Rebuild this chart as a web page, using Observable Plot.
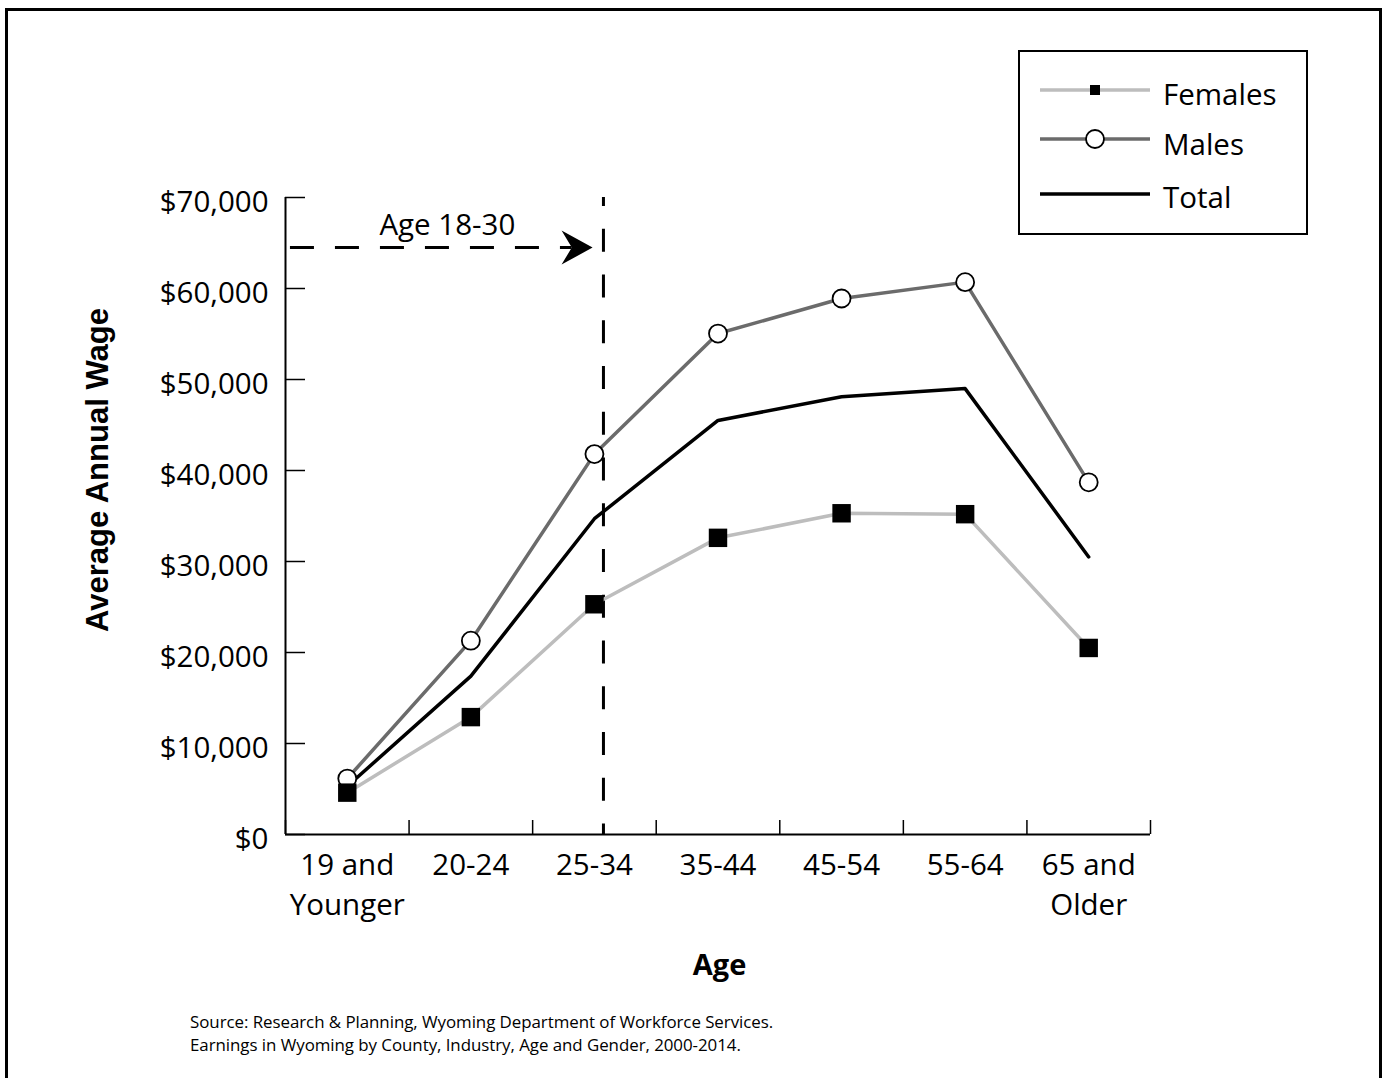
<!DOCTYPE html>
<html>
<head>
<meta charset="utf-8">
<script src="https://cdn.jsdelivr.net/npm/d3@7"></script>
<script src="https://cdn.jsdelivr.net/npm/@observablehq/plot@0.6"></script>
<style>
  body { margin: 0; background: #fff; }
  #page { position: relative; width: 1385px; height: 1078px; overflow: hidden; background: #fff; font-family: "Open Sans", sans-serif; color: #000; }
  #frame { position: absolute; left: 5px; top: 8px; width: 1377px; height: 1200px; border: 3px solid #000; box-sizing: border-box; }
  #chart { position: absolute; left: 0; top: 0; }
  .ylabel { position: absolute; left: 98px; top: 470px; transform: translate(-50%, -50%) rotate(-90deg); white-space: nowrap; font: bold 31px "Liberation Sans", Arial, sans-serif; }
  .xlabel { position: absolute; left: 719.5px; top: 949px; transform: translateX(-50%); font: bold 29px/1 "Open Sans", sans-serif; white-space: nowrap; }
  .source { position: absolute; left: 190px; top: 1010px; font: 16.9px/23px "Open Sans", sans-serif; letter-spacing: -0.05px; white-space: nowrap; }
  .legend { position: absolute; left: 1018px; top: 50px; width: 290px; height: 185px; border: 2px solid #000; box-sizing: border-box; }
  .legtext { position: absolute; font: 29.5px/1 "Open Sans", sans-serif; white-space: nowrap; }
  .legsw { position: absolute; }
</style>
</head>
<body>
<div id="page">
  <div id="frame"></div>
  <div id="chart"></div>
  <div class="ylabel">Average Annual Wage</div>
  <div class="xlabel">Age</div>
  <div class="source">Source: Research &amp; Planning, Wyoming Department of Workforce Services.<br>Earnings in Wyoming by County, Industry, Age and Gender, 2000-2014.</div>
  <div class="legend"></div>
</div>
<script>
// ---- data ----
const ageGroups = ["19 and\nYounger", "20-24", "25-34", "35-44", "45-54", "55-64", "65 and\nOlder"];
const females = [4600, 12900, 25300, 32600, 35300, 35200, 20500];
const males   = [6150, 21300, 41800, 55050, 58900, 60700, 38700];
const total   = [5300, 17400, 34700, 45500, 48100, 49000, 30500];
const yTicks  = [0, 10000, 20000, 30000, 40000, 50000, 60000, 70000];

// annotation ("Age 18-30") values, in age-band units and dollars
const annotationLabel = "Age 18-30";
const ageMarker = 2.573;     // dashed vertical line inside the 25-34 band
const arrowStart = 0.04;
const arrowEnd = 2.32;
const arrowTip = 2.485;
const arrowValue = 64500;
const labelPos = 1.31;
const labelValue = 66900;

const seriesStyle = {
  Females: {stroke: "#bdbdbd"},
  Males: {stroke: "#6b6b6b"},
  Total: {stroke: "#000000"}
};

// ---- build ----
const toRows = (vals, series) => vals.map((v, i) => ({pos: i + 0.5, value: v, series}));
const femaleRows = toRows(females, "Females");
const maleRows = toRows(males, "Males");
const totalRows = toRows(total, "Total");
const boundaries = d3.range(ageGroups.length + 1);
const centers = ageGroups.map((d, i) => i + 0.5);

const arrowShape = {
  draw(context, l, r) {
    context.moveTo(0, -l);
    context.lineTo(r, 0);
    context.lineTo(0, -l * 0.33);
    context.lineTo(-r, 0);
    context.closePath();
  }
};

const chart = Plot.plot({
  width: 1385,
  height: 940,
  marginLeft: 285,
  marginRight: 235,
  marginTop: 197,
  marginBottom: 106,
  style: {fontFamily: '"Open Sans", sans-serif', fontSize: "29.5px", color: "#000", background: "transparent", overflow: "visible"},
  x: {type: "linear", domain: [0, ageGroups.length], axis: null},
  y: {type: "linear", domain: [0, 70000], axis: null},
  marks: [
    Plot.axisY(yTicks, {anchor: "left", tickSize: 20, dx: 20, fill: "none", strokeWidth: 1.5, label: null}),
    Plot.axisY(yTicks, {anchor: "left", tickSize: 0, tickPadding: 17, dy: 5, stroke: "none", tickFormat: d => "$" + d3.format(",")(d), label: null}),
    Plot.axisX(boundaries, {anchor: "bottom", tickSize: 14, dy: -14, fill: "none", strokeWidth: 1.5, label: null}),
    Plot.axisX(centers, {anchor: "bottom", tickSize: 0, tickPadding: 12, stroke: "none", lineHeight: 1.36, tickFormat: d => ageGroups[Math.floor(d)], label: null}),
    Plot.ruleX([0], {strokeWidth: 2}),
    Plot.ruleY([0], {strokeWidth: 2}),
    Plot.ruleX([ageMarker], {y1: 70000, y2: 0, strokeWidth: 3, strokeDasharray: "23,22.75", strokeDashoffset: 14}),
    Plot.ruleY([arrowValue], {x1: arrowStart, x2: arrowEnd, strokeWidth: 3, strokeDasharray: "24,21"}),
    Plot.vector([arrowTip], {x: d => d, y: arrowValue, rotate: 90, length: 31, r: 17, anchor: "end", shape: arrowShape, fill: "#000", stroke: "none"}),
    Plot.text([annotationLabel], {x: labelPos, y: labelValue, text: d => d, textAnchor: "middle"}),
    Plot.line(femaleRows, {x: "pos", y: "value", stroke: seriesStyle.Females.stroke, strokeWidth: 3.5}),
    Plot.line(maleRows, {x: "pos", y: "value", stroke: seriesStyle.Males.stroke, strokeWidth: 3.5}),
    Plot.line(totalRows, {x: "pos", y: "value", stroke: seriesStyle.Total.stroke, strokeWidth: 3.5}),
    Plot.dot(maleRows, {x: "pos", y: "value", r: 9, fill: "#fff", stroke: "#000", strokeWidth: 1.8}),
    Plot.dot(femaleRows, {x: "pos", y: "value", symbol: "square", r: 10.4, fill: "#000", stroke: "none"})
  ]
});
document.getElementById("chart").appendChild(chart);

// ---- legend ----
const page = d3.select("#page");
const legendItems = [
  {name: "Females", lineY: 90, textTop: 79, marker: "square"},
  {name: "Males", lineY: 139, textTop: 129, marker: "circle"},
  {name: "Total", lineY: 194, textTop: 182, marker: null}
];
legendItems.forEach(it => {
  const svg = page.append("svg").attr("class", "legsw")
    .style("left", "1038px").style("top", (it.lineY - 15) + "px")
    .attr("width", 114).attr("height", 30);
  svg.append("line").attr("x1", 2).attr("x2", 112).attr("y1", 15).attr("y2", 15)
    .attr("stroke", seriesStyle[it.name].stroke).attr("stroke-width", 3.5);
  if (it.marker === "square") {
    svg.append("rect").attr("x", 52).attr("y", 10).attr("width", 10).attr("height", 10).attr("fill", "#000");
  } else if (it.marker === "circle") {
    svg.append("circle").attr("cx", 57).attr("cy", 15).attr("r", 9).attr("fill", "#fff").attr("stroke", "#000").attr("stroke-width", 1.8);
  }
  page.append("div").attr("class", "legtext").style("left", "1163px").style("top", it.textTop + "px").text(it.name);
});
</script>
</body>
</html>
